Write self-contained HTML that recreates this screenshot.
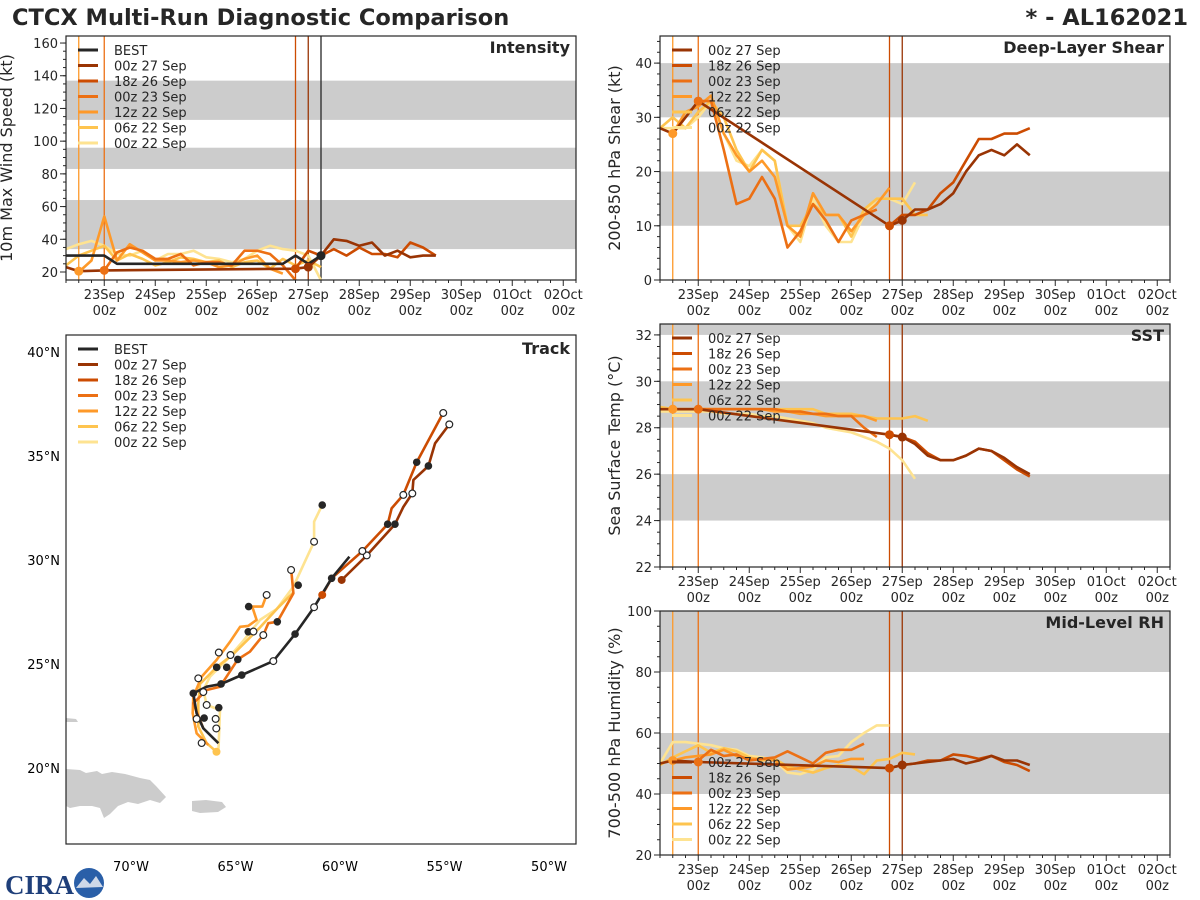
<!DOCTYPE html>
<html><head><meta charset="utf-8">
<style>
html,body{margin:0;padding:0;background:#fff;}
svg{display:block;font-family:"DejaVu Sans","Liberation Sans",sans-serif;}
</style></head>
<body>
<svg id="fig" width="1200" height="900" viewBox="0 0 1200 900" xmlns="http://www.w3.org/2000/svg">
<text x="12" y="25" font-size="22.5" font-weight="bold" fill="#262626">CTCX Multi-Run Diagnostic Comparison</text>
<text x="1188" y="25" font-size="22.5" font-weight="bold" fill="#262626" text-anchor="end">* - AL162021</text>
<g>
<text x="5" y="894" font-size="27" font-weight="bold" fill="#1f3f7a" font-family="Liberation Serif, serif">CIRA</text>
<circle cx="89" cy="883" r="15" fill="#2a5fa8"/>
<path d="M76 888 L84 878 L90 884 L96 876 L103 887 Z" fill="#cfd8e8"/>
</g>
</svg>
<script>
// ---------- data ----------
const runNames = ["00z 27 Sep","18z 26 Sep","00z 23 Sep","12z 22 Sep","06z 22 Sep","00z 22 Sep"];
const runColors = ["#993404","#cc4c02","#ec7014","#fe9929","#fec44f","#fee391"];
const runStarts = [120,114,24,12,6,6];
const dayLabels = ["23Sep","24Sep","25Sep","26Sep","27Sep","28Sep","29Sep","30Sep","01Oct","02Oct"];
const initHours = [6,12,24,114,120];
const initDotHours = [12,24,114,120];
const initDotColors = ["#fe9929","#ec7014","#cc4c02","#993404"];

const intBestStart = 6;
const intBest = [30,30,30,30,25,25,25,25,25,25,25,25,25,25,25,25,25,25,30,25,30];
const intInit = [23,20.5,21,22,23];
const int00z27 = [23,30,40,39,36,38,30,33,29,30,30];
const int18z26 = [22,33,30,34,30,35,31,31,29,38,35,30];
const int00z23 = [21,32,35,33,28,28,31,24,26,26,24,33,33,31,24,15];
const int12z22 = [20,27,54,27,37,32,27,27,26,27,26,23,24,28,30,22,19];
const int06z22 = [24,30,33,36,27,31,28,24,26,29,28,26,27,23,26,27,22,28,24,27,23];
const int00z22 = [34,37,39,36,31,30,33,27,31,31,33,29,28,26,28,33,36,34,33,30,15];
const intTicks = [20,40,60,80,100,120,140,160];
const intBands = [[34,64],[83,96],[113,137]];

const shInit = [28,27,33,10,11];
const sh00z27 = [11,13,13,14,16,20,23,24,23,25,23];
const sh18z26 = [10,12,12,13,16,18,22,26,26,27,27,28];
const sh00z23 = [33,33,24,14,15,19,15,6,9,14,11,7,11,12,13];
const sh12z22 = [27,31,32,34,27,23,20,22,19,10,8,16,12,12,9,12,14,17];
const sh06z22 = [28,30,28,31,33,30,24,20,24,22,10,10,14,12,12,8,13,15,15,15,12,12];
const sh00z22 = [28,28,28,30,33,27,22,21,24,22,10,7,15,10,7,7,12,15,15,14,18];
const shTicks = [0,10,20,30,40];
const shBands = [[10,20],[30,40]];

const sstInit = [28.8,28.8,28.8,27.7,27.6];
const sst00z27 = [27.6,27.3,26.8,26.6,26.6,26.8,27.1,27.0,26.7,26.3,26.0];
const sst18z26 = [27.7,27.6,27.4,26.9,26.6,26.6,26.8,27.1,27.0,26.6,26.2,25.9];
const sst00z23 = [28.8,28.8,28.8,28.8,28.8,28.8,28.8,28.7,28.7,28.6,28.6,28.5,28.5,28.0,27.6];
const sst12z22 = [28.8,28.8,28.8,28.8,28.8,28.8,28.8,28.8,28.7,28.7,28.6,28.6,28.5,28.5,28.5,28.5,28.3];
const sst06z22 = [28.9,28.8,28.8,28.8,28.8,28.8,28.8,28.8,28.8,28.8,28.8,28.8,28.8,28.6,28.6,28.6,28.5,28.4,28.4,28.4,28.5,28.3];
const sst00z22 = [28.7,28.7,28.7,28.7,28.7,28.6,28.6,28.6,28.5,28.5,28.4,28.3,28.2,28.0,27.9,27.8,27.6,27.4,27.1,26.6,25.8];
const sstTicks = [22,24,26,28,30,32];
const sstBands = [[24,26],[28,30],[32,40]];

const rhInit = [50,51,50.5,48.5,49.5];
const rh00z27 = [49.5,50,50.5,51,51.5,50,51,52.5,51,51,49.5];
const rh18z26 = [48.5,49.5,50,51,51,53,52.5,51.5,52.5,50.5,49.5,47.5];
const rh00z23 = [51,54.5,52.5,53,51,51.5,52,54,52,50,53.5,54.5,54.5,56.5];
const rh12z22 = [51,52,52.5,53,54.5,52.5,51.5,51.5,51,48,48.5,49,51,50.5,51.5,51.5];
const rh06z22 = [49.5,52,54,56,53.5,55,54,52,51,51.5,49,48,47,48.5,49.5,49,46.5,51,51.5,53.5,53];
const rh00z22 = [50,57,57,56.5,56,55,54.5,52.5,52,51,47,46.5,48,52,52.5,57,60,62.5,62.5];
const rhTicks = [20,40,60,80,100];
const rhBands = [[40,60],[80,100]];

// track (lon negative = W)
const bestLon = [-65.82,-66.54,-66.86,-67.02,-66.38,-65.69,-64.70,-63.19,-62.15,-61.24,-60.40,-59.55];
const bestLat = [21.19,21.91,22.63,23.59,23.91,24.04,24.47,25.14,26.44,27.73,29.12,30.16];
const trk00z27Lon = [-59.92,-58.72,-57.37,-56.97,-56.54,-56.49,-55.77,-55.45,-54.77];
const trk00z27Lat = [29.04,30.22,31.72,32.55,33.20,33.85,34.52,35.61,36.52];
const trk18z26Lon = [-60.85,-60.40,-58.93,-57.72,-57.53,-56.97,-56.33,-55.06];
const trk18z26Lat = [28.32,29.12,30.43,31.72,32.48,33.13,34.70,37.07];
const trk00z23Lon = [-66.54,-67.02,-66.38,-65.74,-64.89,-64.31,-63.67,-63.43,-63.00,-62.23,-62.31,-62.34];
const trk00z23Lat = [21.91,23.11,23.75,23.91,25.22,25.59,26.39,26.96,27.03,28.40,29.28,29.52];
const trk12z22Lon = [-66.30,-66.86,-67.05,-67.02,-66.62,-65.91,-65.26,-64.78,-64.39,-63.99,-64.20,-63.72,-63.51];
const trk12z22Lat = [21.11,21.67,22.63,23.43,24.39,25.19,26.07,26.79,26.83,27.12,27.76,27.76,28.32];
const trk06z22Lon = [-65.91,-66.38,-66.78,-66.78,-66.70,-65.91,-65.10,-64.46,-63.83,-63.03,-62.23];
const trk06z22Lat = [20.78,21.19,21.99,23.11,24.04,24.84,25.48,26.12,26.76,27.64,28.44];
const trk00z22Lon = [-65.82,-65.74,-66.38,-66.54,-66.22,-65.42,-64.62,-63.83,-63.03,-62.23,-61.24,-61.24,-60.85];
const trk00z22Lat = [20.78,22.79,23.03,23.75,24.39,25.19,26.12,27.12,27.64,28.72,30.88,31.84,32.64];
const filledLon = [-65.69,-64.70,-62.15,-60.40,-57.37,-57.72,-55.77,-56.33,-64.89,-63.00,-62.0,-64.37,-64.39,-65.42,-65.9,-67.02,-66.5,-65.8,-60.85];
const filledLat = [24.04,24.47,26.44,29.12,31.72,31.72,34.52,34.70,25.22,27.03,28.79,27.76,26.55,24.84,24.84,23.59,22.4,22.9,32.64];
const openLon = [-63.19,-61.24,-58.72,-58.93,-56.54,-56.97,-54.77,-55.06,-63.67,-62.34,-63.51,-64.14,-65.24,-65.8,-66.78,-66.54,-66.38,-65.95,-66.86,-66.62,-65.92,-61.24];
const openLat = [25.14,27.73,30.22,30.43,33.20,33.13,36.52,37.07,26.39,29.52,28.32,26.56,25.43,25.55,24.31,23.65,23.03,22.36,22.36,21.2,21.9,30.88];
const lonTicks = [-70,-65,-60,-55,-50];
const latTicks = [20,25,30,35,40];

// ---------- helpers ----------
const NS = "http://www.w3.org/2000/svg";
const svg = document.getElementById("fig");
function mk(tag, attrs, parent) {
  const e = document.createElementNS(NS, tag);
  for (const k in attrs) e.setAttribute(k, attrs[k]);
  (parent || svg).appendChild(e);
  return e;
}
const PXDAY = 51;

function timePanel(cfg) {
  const g = mk("g", {});
  
  
  const x0 = cfg.x0, y0 = cfg.y0, w = 510, h = cfg.h;
  const X = hr => x0 + (hr - 6) / 24 * PXDAY;
  const Y = v => y0 + h - (v - cfg.ymin) / (cfg.ymax - cfg.ymin) * h;
  const cid = "clip-" + cfg.name;
  const cp = mk("clipPath", {id: cid}, g);
  mk("rect", {x: x0, y: y0, width: w, height: h}, cp);
  cfg.bands.forEach(b => {
    const top = Math.max(Y(b[1]), y0), bot = Math.min(Y(b[0]), y0 + h);
    const r = mk("rect", {x: x0, y: top, width: w, height: bot - top, fill: "#cccccc"}, g);
    
    
  });
  initDotHours.forEach((hr, i) => {
    const l = mk("line", {x1: X(hr), x2: X(hr), y1: y0, y2: y0 + h, stroke: initDotColors[i], "stroke-width": 1.3}, g);
    
    
  });
  if (cfg.best) {
    const hr = cfg.bestStart + (cfg.best.length - 1) * 6;
    const l = mk("line", {x1: X(hr), x2: X(hr), y1: y0, y2: y0 + h, stroke: "#262626", "stroke-width": 1.3}, g);
    
    
  }
  const lg = mk("g", {"clip-path": "url(#" + cid + ")"}, g);
  function poly(vals, start, color, name, hours) {
    const pts = vals.map((v, i) => X(hours ? hours[i] : start + i * 6).toFixed(1) + "," + Y(v).toFixed(1)).join(" ");
    const p = mk("polyline", {points: pts, fill: "none", stroke: color, "stroke-width": 2.6, "stroke-linejoin": "round"}, lg);
    
    
  }
  for (let i = cfg.series.length - 1; i >= 0; i--) poly(cfg.series[i], runStarts[i], runColors[i], 'series-' + runNames[i].replace(/ /g, '-').toLowerCase());
  poly(cfg.init, 0, "#993404", 'init-value-line', initHours);
  if (cfg.best) poly(cfg.best, cfg.bestStart, "#262626", 'best-track-line');
  initDotHours.forEach((hr, i) => {
    const c = mk("circle", {cx: X(hr), cy: Y(cfg.init[i + 1]), r: 4.5, fill: initDotColors[i]}, lg);
    
    
  });
  if (cfg.best) {
    const n = cfg.best.length - 1;
    const c = mk("circle", {cx: X(cfg.bestStart + n * 6), cy: Y(cfg.best[n]), r: 4.5, fill: "#262626"}, lg);
    
    
  }
  const f = mk("rect", {x: x0, y: y0, width: w, height: h, fill: "none", stroke: "#262626", "stroke-width": 1.2}, g);
  
  
  for (let hr = 6; hr <= 246; hr += 6) {
    const major = hr % 24 === 0;
    const t = mk("line", {x1: X(hr), x2: X(hr), y1: y0 + h, y2: y0 + h + (major ? 6 : 3), stroke: "#262626", "stroke-width": 1}, g);
    
    
  }
  dayLabels.forEach((d, i) => {
    const hr = 24 * (i + 1);
    const t1 = mk("text", {x: X(hr), y: y0 + h + 19, "font-size": 13, "text-anchor": "middle", fill: "#262626"}, g);
    t1.textContent = d;
    
    
    const t2 = mk("text", {x: X(hr), y: y0 + h + 35, "font-size": 13, "text-anchor": "middle", fill: "#262626"}, g);
    t2.textContent = "00z";
    
    
  });
  for (let v = cfg.ymin; v <= cfg.ymax + 1e-6; v += cfg.minor) {
    const vv = Math.round(v / cfg.minor) * cfg.minor;
    if (vv < cfg.ymin || vv > cfg.ymax) continue;
    const t = mk("line", {x1: x0 - 3, x2: x0, y1: Y(vv), y2: Y(vv), stroke: "#262626", "stroke-width": 1}, g);
    
    
  }
  cfg.ticks.forEach(v => {
    const t = mk("line", {x1: x0 - 6, x2: x0, y1: Y(v), y2: Y(v), stroke: "#262626", "stroke-width": 1}, g);
    
    
    const l = mk("text", {x: x0 - 8, y: Y(v) + 5, "font-size": 13, "text-anchor": "end", fill: "#262626"}, g);
    l.textContent = v;
    
    
  });
  const yl = mk("text", {x: 0, y: 0, "font-size": 16, "text-anchor": "middle", fill: "#262626", transform: "translate(" + (x0 - cfg.ylabelOff) + "," + (y0 + h / 2) + ") rotate(-90)"}, g);
  yl.textContent = cfg.ylabel;
  
  
  const tt = mk("text", {x: x0 + w - 6, y: y0 + 17, "font-size": 16, "font-weight": "bold", "text-anchor": "end", fill: "#262626"}, g);
  tt.textContent = cfg.title;
  
  
  legend(g, x0 + 12, cfg.legY, cfg.best ? true : false);
}

function legend(g, lx, ly, withBest) {
  const names = withBest ? ["BEST"].concat(runNames) : runNames;
  const cols = withBest ? ["#262626"].concat(runColors) : runColors;
  const lg = mk("g", {}, g);
  
  
  names.forEach((n, i) => {
    const y = ly + i * 15.5;
    const s = mk("line", {x1: lx, x2: lx + 20, y1: y, y2: y, stroke: cols[i], "stroke-width": 3}, lg);
    
    
    const t = mk("text", {x: lx + 36, y: y + 5, "font-size": 13, fill: "#262626"}, lg);
    t.textContent = n;
    
    
  });
}

timePanel({name: "intensity", x0: 66, y0: 36, h: 244, ymin: 15.1, ymax: 164.3, minor: 5, ticks: intTicks, bands: intBands,
  series: [int00z27, int18z26, int00z23, int12z22, int06z22, int00z22], init: intInit, best: intBest, bestStart: intBestStart,
  ylabel: "10m Max Wind Speed (kt)", title: "Intensity", legY: 50, ylabelOff: 54});
timePanel({name: "shear", x0: 660, y0: 36, h: 244, ymin: 0, ymax: 45, minor: 2, ticks: shTicks, bands: shBands,
  series: [sh00z27, sh18z26, sh00z23, sh12z22, sh06z22, sh00z22], init: shInit,
  ylabel: "200-850 hPa Shear (kt)", title: "Deep-Layer Shear", legY: 50, ylabelOff: 40});
timePanel({name: "sst", x0: 660, y0: 324, h: 243, ymin: 22, ymax: 32.47, minor: 0.5, ticks: sstTicks, bands: sstBands,
  series: [sst00z27, sst18z26, sst00z23, sst12z22, sst06z22, sst00z22], init: sstInit,
  ylabel: "Sea Surface Temp (°C)", title: "SST", legY: 338, ylabelOff: 40});
timePanel({name: "rh", x0: 660, y0: 611, h: 244, ymin: 20, ymax: 100, minor: 5, ticks: rhTicks, bands: rhBands,
  series: [rh00z27, rh18z26, rh00z23, rh12z22, rh06z22, rh00z22], init: rhInit,
  ylabel: "700-500 hPa Humidity (%)", title: "Mid-Level RH", legY: 762, ylabelOff: 40});

// ---------- track map ----------
(function () {
  const g = mk("g", {});
  
  
  const x0 = 66, y0 = 335, w = 510, h = 509;
  const LX = lon => 340 + (lon + 60) * 20.9;
  const LY = lat => 560 - (lat - 30) * 20.8;
  const cp = mk("clipPath", {id: "clip-track"}, g);
  mk("rect", {x: x0, y: y0, width: w, height: h}, cp);
  const land = mk("g", {"clip-path": "url(#clip-track)", fill: "#cccccc"}, g);
  
  
  const hisp = mk("path", {d: "M66 769 L80 770 L86 773 L97 771 L102 774 L112 772 L125 774 L140 778 L150 780 L156 786 L166 797 L160 803 L150 800 L138 804 L128 802 L118 806 L110 814 L104 818 L100 808 L92 806 L80 806 L70 808 L66 806 Z"}, land);
  
  
  const pr = mk("path", {d: "M192 801 L206 800 L222 802 L226 807 L218 812 L200 813 L192 811 Z"}, land);
  
  
  const cuba = mk("path", {d: "M66 718 L76 719 L78 722 L66 722 Z"}, land);
  
  
  const tg = mk("g", {"clip-path": "url(#clip-track)"}, g);
  function track(lons, lats, color, name) {
    const pts = lons.map((lo, i) => LX(lo).toFixed(1) + "," + LY(lats[i]).toFixed(1)).join(" ");
    const p = mk("polyline", {points: pts, fill: "none", stroke: color, "stroke-width": 2.6, "stroke-linejoin": "round"}, tg);
    
    
  }
  track(trk00z22Lon, trk00z22Lat, runColors[5], 'track-00z-22-sep');
  track(trk06z22Lon, trk06z22Lat, runColors[4], 'track-06z-22-sep');
  track(trk12z22Lon, trk12z22Lat, runColors[3], 'track-12z-22-sep');
  track(trk00z23Lon, trk00z23Lat, runColors[2], 'track-00z-23-sep');
  track(trk18z26Lon, trk18z26Lat, runColors[1], 'track-18z-26-sep');
  track(trk00z27Lon, trk00z27Lat, runColors[0], 'track-00z-27-sep');
  track(bestLon, bestLat, "#262626", 'track-best');
  filledLon.forEach((lo, i) => {
    const c = mk("circle", {cx: LX(lo), cy: LY(filledLat[i]), r: 3.8, fill: "#262626"}, tg);
    
    
  });
  openLon.forEach((lo, i) => {
    const c = mk("circle", {cx: LX(lo), cy: LY(openLat[i]), r: 3.4, fill: "#ffffff", stroke: "#262626", "stroke-width": 1.2}, tg);
    
    
  });
  const d1 = mk("circle", {cx: LX(trk18z26Lon[0]), cy: LY(trk18z26Lat[0]), r: 4, fill: runColors[1]}, tg);
  
  
  const d2 = mk("circle", {cx: LX(trk00z27Lon[0]), cy: LY(trk00z27Lat[0]), r: 4, fill: runColors[0]}, tg);
  
  
  const d3 = mk("circle", {cx: LX(trk06z22Lon[0]), cy: LY(trk06z22Lat[0]), r: 4, fill: runColors[4]}, tg);
  
  
  const f = mk("rect", {x: x0, y: y0, width: w, height: h, fill: "none", stroke: "#262626", "stroke-width": 1.2}, g);
  
  
  lonTicks.forEach(lo => {
    const t = mk("text", {x: LX(lo), y: 871, "font-size": 13, "text-anchor": "middle", fill: "#000"}, g);
    t.textContent = Math.abs(lo) + "°W";
    
    
  });
  latTicks.forEach(la => {
    const t = mk("text", {x: 60, y: LY(la) + 5, "font-size": 13, "text-anchor": "end", fill: "#000"}, g);
    t.textContent = la + "°N";
    
    
  });
  const tt = mk("text", {x: x0 + w - 6, y: y0 + 19, "font-size": 16, "font-weight": "bold", "text-anchor": "end", fill: "#262626"}, g);
  tt.textContent = "Track";
  
  
  legend(g, 78, 349, true);
})();
</script>
</body></html>
